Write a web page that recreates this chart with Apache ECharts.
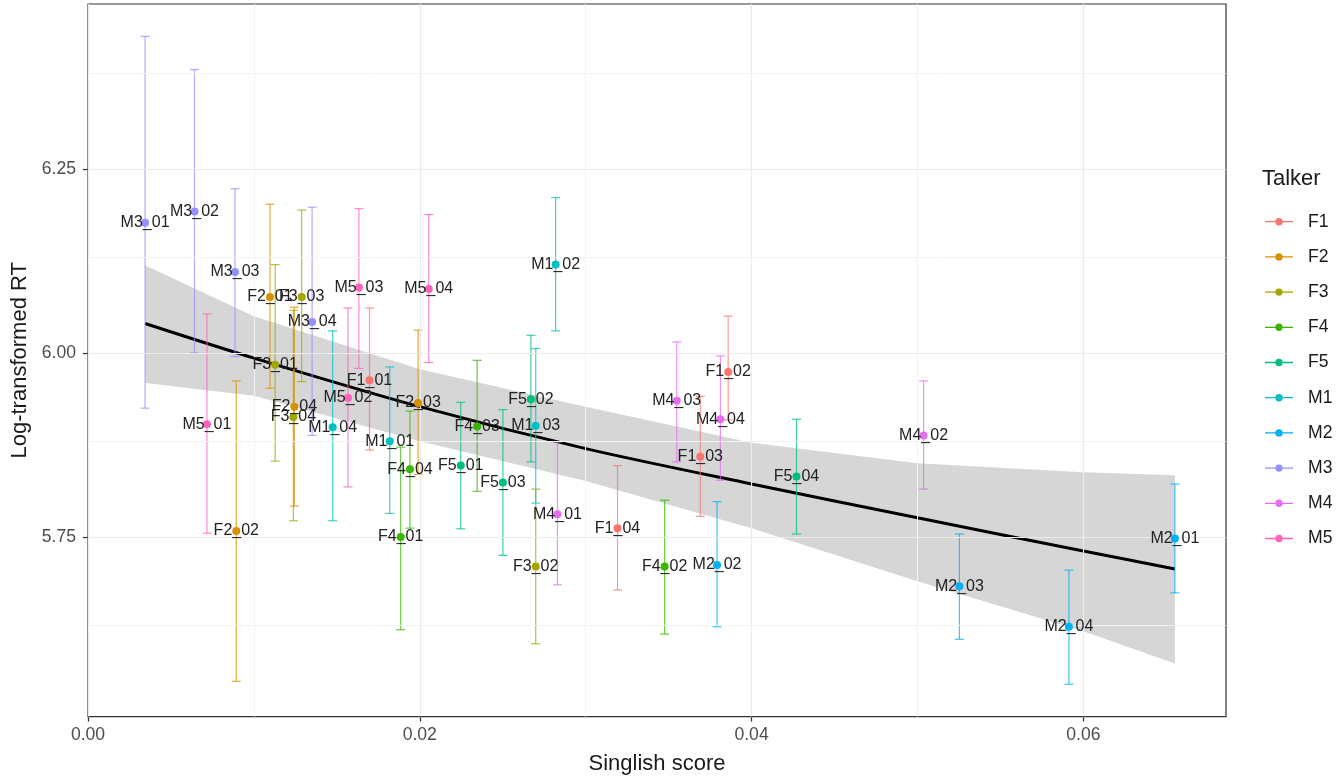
<!DOCTYPE html>
<html>
<head>
<meta charset="utf-8">
<script src="https://cdn.jsdelivr.net/npm/echarts@6/dist/echarts.min.js"></script>
<style>
  html, body { margin: 0; padding: 0; background: #ffffff; }
  #chart { width: 1338px; height: 777px; }
</style>
</head>
<body>
<div id="chart"></div>
<script>
// Talkers and their item-level means with confidence limits
const talkers = ['F1', 'F2', 'F3', 'F4', 'F5', 'M1', 'M2', 'M3', 'M4', 'M5'];

const itemNames = [
  'F1_01', 'F1_02', 'F1_03', 'F1_04',
  'F2_01', 'F2_02', 'F2_03', 'F2_04',
  'F3_01', 'F3_02', 'F3_03', 'F3_04',
  'F4_01', 'F4_02', 'F4_03', 'F4_04',
  'F5_01', 'F5_02', 'F5_03', 'F5_04',
  'M1_01', 'M1_02', 'M1_03', 'M1_04',
  'M2_01', 'M2_02', 'M2_03', 'M2_04',
  'M3_01', 'M3_02', 'M3_03', 'M3_04',
  'M4_01', 'M4_02', 'M4_03', 'M4_04',
  'M5_01', 'M5_02', 'M5_03', 'M5_04'
];

const singlishScore = [
  0.01697, 0.03859, 0.03691, 0.03192,
  0.01097, 0.00894, 0.01990, 0.01244,
  0.01128, 0.02699, 0.01288, 0.01238,
  0.01885, 0.03476, 0.02346, 0.01941,
  0.02247, 0.02670, 0.02501, 0.04271,
  0.01819, 0.02819, 0.02699, 0.01475,
  0.06552, 0.03792, 0.05253, 0.05913,
  0.00344, 0.00642, 0.00886, 0.01351,
  0.02830, 0.05037, 0.03549, 0.03812,
  0.00717, 0.01567, 0.01633, 0.02054
];

const logRT = [
  5.963, 5.974, 5.859, 5.762,
  6.076, 5.758, 5.932, 5.927,
  5.984, 5.710, 6.076, 5.913,
  5.750, 5.710, 5.900, 5.842,
  5.847, 5.937, 5.824, 5.832,
  5.880, 6.120, 5.901, 5.899,
  5.748, 5.712, 5.683, 5.628,
  6.177, 6.192, 6.110, 6.042,
  5.781, 5.888, 5.935, 5.910,
  5.903, 5.939, 6.089, 6.087
];

const ciLower = [
  5.868, 5.909, 5.778, 5.678,
  5.952, 5.554, 5.835, 5.792,
  5.853, 5.605, 5.961, 5.772,
  5.624, 5.618, 5.812, 5.762,
  5.761, 5.852, 5.725, 5.754,
  5.782, 6.030, 5.796, 5.772,
  5.674, 5.628, 5.611, 5.550,
  5.925, 6.000, 5.995, 5.888,
  5.685, 5.815, 5.852, 5.827,
  5.755, 5.818, 5.979, 5.987
];

const ciUpper = [
  6.061, 6.050, 5.941, 5.847,
  6.202, 5.962, 6.031, 6.062,
  6.120, 5.815, 6.194, 6.058,
  5.872, 5.800, 5.990, 5.921,
  5.933, 6.024, 5.923, 5.910,
  5.981, 6.211, 6.006, 6.030,
  5.822, 5.798, 5.754, 5.705,
  6.430, 6.385, 6.223, 6.198,
  5.879, 5.962, 6.015, 5.996,
  6.053, 6.061, 6.196, 6.188
];

// Smoothed trend and its confidence band
const fitScore = [0.00344, 0.01, 0.02, 0.03, 0.04, 0.05, 0.06, 0.06552];
const fitRT    = [6.040, 5.993, 5.927, 5.870, 5.822, 5.776, 5.731, 5.7065];
const fitLower = [5.959, 5.942, 5.880, 5.826, 5.762, 5.690, 5.622, 5.578];
const fitUpper = [6.119, 6.050, 5.978, 5.927, 5.878, 5.850, 5.838, 5.834];

// Axis ticks and grid positions
const xTicks = [0, 0.02, 0.04, 0.06];
const xMinorGrid = [0.01, 0.03, 0.05];
const yTicks = [5.75, 6.00, 6.25];
const yMinorGrid = [5.625, 5.875, 6.125, 6.375];

const palette = {
  F1: '#F8766D', F2: '#D89000', F3: '#A3A500', F4: '#39B600', F5: '#00BF7D',
  M1: '#00BFC4', M2: '#00B0F6', M3: '#9590FF', M4: '#E76BF3', M5: '#FF62BC'
};

const FONT = '"Liberation Sans", Arial, Helvetica, sans-serif';

const talkerOf = name => name.split('_')[0];

const errorRows = itemNames.map((n, i) => [singlishScore[i], ciLower[i], ciUpper[i], talkers.indexOf(talkerOf(n))]);

const gridLineData = [
  ...xTicks.map(v => ({ xAxis: v, lineStyle: { color: '#ebebeb', width: 1.2, type: 'solid' } })),
  ...xMinorGrid.map(v => ({ xAxis: v, lineStyle: { color: '#f3f3f3', width: 1, type: 'solid' } })),
  ...yTicks.map(v => ({ yAxis: v, lineStyle: { color: '#ebebeb', width: 1.2, type: 'solid' } })),
  ...yMinorGrid.map(v => ({ yAxis: v, lineStyle: { color: '#f3f3f3', width: 1, type: 'solid' } }))
];

const talkerSeries = talkers.map(t => ({
  name: t,
  type: 'scatter',
  z: 6,
  symbol: 'circle',
  symbolSize: 8,
  itemStyle: { color: palette[t], opacity: 1 },
  label: {
    show: true,
    position: 'inside',
    formatter: p => p.name,
    fontFamily: FONT,
    fontSize: 16,
    color: '#222222'
  },
  emphasis: { disabled: true },
  data: itemNames
    .map((n, i) => ({ name: n, value: [singlishScore[i], logRT[i]] }))
    .filter(d => talkerOf(d.name) === t)
}));

const legendIcon = 'path://M0,0h0.01v0.01h-0.01Z M27.99,17.99h0.01v0.01h-0.01Z M0,8.35H28V9.65H0Z M10.3,9A3.7,3.7 0 1 1 17.7,9A3.7,3.7 0 1 1 10.3,9Z';

const chart = echarts.init(document.getElementById('chart'), null, { renderer: 'canvas' });

chart.setOption({
  animation: false,
  backgroundColor: '#ffffff',
  textStyle: { fontFamily: FONT },
  title: {
    text: 'Talker',
    left: 1262,
    top: 168,
    padding: 0,
    textStyle: { fontFamily: FONT, fontSize: 22, fontWeight: 'normal', color: '#1a1a1a' }
  },
  legend: {
    orient: 'vertical',
    left: 1265,
    top: 212.7,
    padding: 0,
    itemWidth: 28,
    itemHeight: 18,
    itemGap: 17.2,
    icon: legendIcon,
    selectedMode: false,
    data: talkers,
    textStyle: { fontFamily: FONT, fontSize: 17.6, color: '#1a1a1a', padding: [0, 0, 0, 10] }
  },
  grid: {
    left: 88,
    right: 112,
    top: 4,
    bottom: 60.4,
    show: true,
    borderColor: '#333333',
    borderWidth: 1.2,
    backgroundColor: 'transparent',
    outerBoundsMode: 'none'
  },
  xAxis: {
    type: 'value',
    min: 0,
    max: 0.0686,
    name: 'Singlish score',
    nameLocation: 'middle',
    nameGap: 36,
    nameTextStyle: { fontFamily: FONT, fontSize: 22, color: '#1a1a1a' },
    axisLine: { show: false },
    splitLine: { show: false },
    axisTick: { show: true, customValues: xTicks, length: 5, lineStyle: { color: '#333333', width: 1.2 } },
    axisLabel: {
      customValues: xTicks,
      formatter: v => v.toFixed(2),
      fontFamily: FONT,
      fontSize: 17.6,
      color: '#4d4d4d',
      margin: 10
    }
  },
  yAxis: {
    type: 'value',
    min: 5.506,
    max: 6.474,
    name: 'Log-transformed RT',
    nameLocation: 'middle',
    nameGap: 41,
    nameTextStyle: { fontFamily: FONT, fontSize: 22, color: '#1a1a1a' },
    axisLine: { show: false },
    splitLine: { show: false },
    axisTick: { show: true, customValues: yTicks, length: 5, lineStyle: { color: '#333333', width: 1.2 } },
    axisLabel: {
      customValues: yTicks,
      formatter: v => v.toFixed(2),
      fontFamily: FONT,
      fontSize: 17.6,
      color: '#4d4d4d',
      margin: 12
    }
  },
  series: [
    {
      // panel grid lines
      name: 'grid',
      type: 'line',
      z: 1,
      silent: true,
      data: [],
      markLine: {
        silent: true,
        symbol: ['none', 'none'],
        label: { show: false },
        animation: false,
        data: gridLineData
      }
    },
    {
      // confidence band around the trend
      name: 'band',
      type: 'custom',
      z: 2,
      silent: true,
      clip: true,
      data: fitScore.map((x, i) => [x, fitRT[i]]),
      renderItem: (params, api) => {
        if (params.dataIndex !== 0) return null;
        const upper = fitScore.map((x, i) => api.coord([x, fitUpper[i]]));
        const lower = fitScore.map((x, i) => api.coord([x, fitLower[i]])).reverse();
        return {
          type: 'polygon',
          shape: { points: upper.concat(lower) },
          style: { fill: 'rgba(153,153,153,0.4)', stroke: null }
        };
      }
    },
    {
      name: 'trend',
      type: 'line',
      z: 3,
      silent: true,
      showSymbol: false,
      smooth: 0.3,
      lineStyle: { color: '#000000', width: 3 },
      data: fitScore.map((x, i) => [x, fitRT[i]])
    },
    {
      // error bars with caps
      name: 'errorbars',
      type: 'custom',
      z: 4,
      silent: true,
      encode: { x: 0, y: [1, 2] },
      data: errorRows,
      renderItem: (params, api) => {
        const x = api.value(0);
        const lo = api.coord([x, api.value(1)]);
        const hi = api.coord([x, api.value(2)]);
        const color = palette[talkers[api.value(3)]];
        const cap = 4.5;
        const style = { stroke: color, lineWidth: 1.2, opacity: 0.75 };
        return {
          type: 'group',
          children: [
            { type: 'line', shape: { x1: lo[0], y1: lo[1], x2: hi[0], y2: hi[1] }, style },
            { type: 'line', shape: { x1: lo[0] - cap, y1: lo[1], x2: lo[0] + cap, y2: lo[1] }, style },
            { type: 'line', shape: { x1: hi[0] - cap, y1: hi[1], x2: hi[0] + cap, y2: hi[1] }, style }
          ]
        };
      }
    },
    ...talkerSeries
  ]
});
</script>
</body>
</html>
